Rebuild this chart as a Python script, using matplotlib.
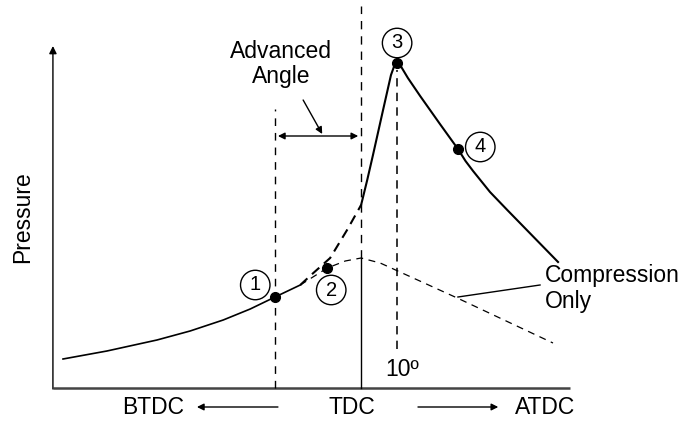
import matplotlib
matplotlib.use('Agg')
import matplotlib.pyplot as plt

plt.rcParams['font.family'] = ['Liberation Sans', 'DejaVu Sans']
plt.rcParams['lines.scale_dashes'] = False

# crank angle (degrees from TDC) and pressure (arbitrary units)
base_angle = [-82.8, -70.6, -56.7, -47.5, -38.3, -30.8, -23.9, -16.9]
base_press = [2.9, 3.7, 4.8, 5.7, 6.8, 7.9, 9.1, 10.3]

comp_angle = [-16.9, -9.4, -4.4, 0.0, 5.3, 26.7, 53.3]
comp_press = [10.3, 12.0, 12.7, 13.0, 12.5, 9.0, 4.5]

adv_angle = [-16.9, -14.2, -8.6, -3.9, 0.0]
adv_press = [10.3, 11.2, 13.0, 15.8, 18.3]

fire_angle = [0.0, 1.7, 3.3, 6.1, 8.3, 9.2, 10.0, 11.0, 13.0, 16.4, 21.9, 26.9, 29.0, 31.1, 35.8, 40.6, 54.7]
fire_press = [18.3, 20.8, 23.3, 27.8, 31.3, 32.2, 32.5, 32.2, 31.0, 29.2, 26.4, 23.9, 22.7, 21.7, 19.6, 17.8, 12.6]

pt_angle = [-23.9, -9.4, 10.0, 26.9]
pt_press = [9.1, 12.0, 32.5, 23.9]
pt_labels = ['1', '2', '3', '4']
lbl_angle = [-29.4, -8.3, 10.0, 33.1]
lbl_press = [10.3, 9.8, 34.5, 24.1]

advance = -23.9
peak_angle = 10.0

fig = plt.figure(figsize=(6.88, 4.24), dpi=100)
ax = fig.add_axes([0, 0, 1, 1])
ax.set_xlim(-100.3, 90.8)
ax.set_ylim(-3.6, 38.8)
ax.axis('off')

# axes
ax.plot([-85.6, 58.1], [0, 0], color='#444444', lw=1.8, solid_capstyle='butt')
ax.annotate('', xy=(-85.6, 34.2), xytext=(-85.6, -0.1),
            arrowprops=dict(arrowstyle='-|>', color='black', lw=1.0,
                            mutation_scale=11, shrinkA=0, shrinkB=0))

# reference lines
ax.plot([advance, advance], [0, 27.9], color='black', lw=1.0, dashes=(5.5, 5))
ax.plot([0, 0], [13.0, 38.2], color='black', lw=1.0, dashes=(6, 5))
ax.plot([0, 0], [0, 13.0], color='black', lw=1.0)
ax.plot([peak_angle, peak_angle], [3.9, 31.8], color='#333333', lw=1.4, dashes=(6, 4.5))

# curves
ax.plot(base_angle, base_press, color='black', lw=1.2)
ax.plot(comp_angle, comp_press, color='black', lw=0.9, dashes=(5, 4))
ax.plot(adv_angle, adv_press, color='black', lw=1.5, dashes=(7, 4.5))
ax.plot(fire_angle, fire_press, color='black', lw=1.5)
ax.plot(pt_angle, pt_press, 'o', color='black', ms=7)

for a, p, s in zip(lbl_angle, lbl_press, pt_labels):
    ax.text(a, p, s, fontsize=14.5, ha='center', va='center',
            bbox=dict(boxstyle='circle,pad=0.26', fc='white', ec='black', lw=1.0))

# advanced angle annotation
ax.text(-22.2, 32.4, 'Advanced\nAngle', fontsize=16.5, ha='center', va='center',
        linespacing=1.12)
ax.annotate('', xy=(-23.1, 25.2), xytext=(-0.8, 25.2),
            arrowprops=dict(arrowstyle='<|-|>', color='black', lw=1.0,
                            mutation_scale=10, shrinkA=0, shrinkB=0))
ax.annotate('', xy=(-10.8, 25.4), xytext=(-16.1, 28.8),
            arrowprops=dict(arrowstyle='-|>', color='black', lw=1.0,
                            mutation_scale=10, shrinkA=0, shrinkB=0))

# compression only label
ax.text(51.1, 9.95, 'Compression\nOnly', fontsize=16.5, ha='left', va='center',
        linespacing=1.12)
ax.plot([26.9, 49.7], [9.1, 10.3], color='black', lw=1.0)

ax.text(6.7, 1.8, '10º', fontsize=16.5, ha='left', va='center')
ax.text(-93.9, 17.1, 'Pressure', fontsize=16.5, rotation=90, ha='center', va='center')

# bottom direction labels
ax.text(-57.8, -2.0, 'BTDC', fontsize=16.5, ha='center', va='center')
ax.text(-2.5, -2.0, 'TDC', fontsize=16.5, ha='center', va='center')
ax.text(51.1, -2.0, 'ATDC', fontsize=16.5, ha='center', va='center')
ax.annotate('', xy=(-45.6, -1.9), xytext=(-23.1, -1.9),
            arrowprops=dict(arrowstyle='-|>', color='black', lw=1.0,
                            mutation_scale=10, shrinkA=0, shrinkB=0))
ax.annotate('', xy=(38.1, -1.9), xytext=(15.8, -1.9),
            arrowprops=dict(arrowstyle='-|>', color='black', lw=1.0,
                            mutation_scale=10, shrinkA=0, shrinkB=0))

fig.savefig('out.png', dpi=100)
